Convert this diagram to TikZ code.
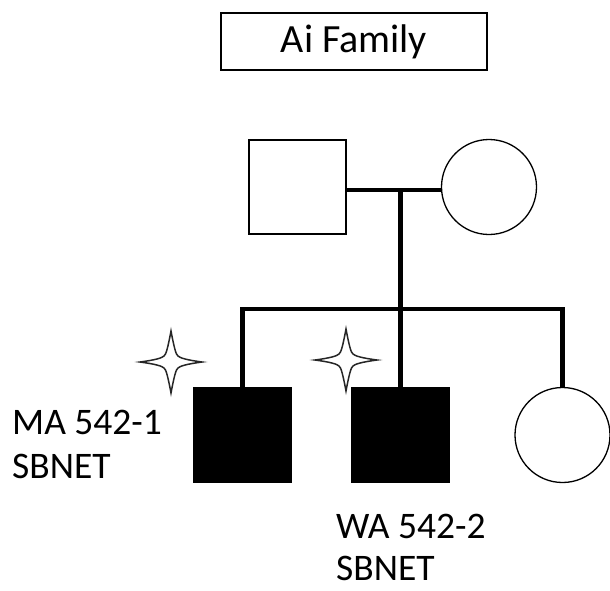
\documentclass[tikz,border=0pt]{standalone}
\usepackage{fontspec}
\setmainfont{Carlito}
\begin{document}
\begin{tikzpicture}[x=1pt,y=-1pt,
  thinline/.style={line width=1.3pt},
  thickline/.style={line width=4.5pt},
  male/.style={draw,thinline,minimum width=97pt,minimum height=94pt,inner sep=0pt},
  female/.style={draw,thinline,circle,minimum size=95pt,inner sep=0pt},
  affected/.style={fill=black},
  lbl/.style={anchor=base west,font=\fontsize{37.5}{44}\selectfont,inner sep=0pt},
  starshape/.style={line width=1.5pt,draw=black!85,fill=white,line join=miter}
]
\useasboundingbox (0,0) rectangle (610,590);
% title
\node[draw,thinline,minimum width=266pt,minimum height=57pt,inner sep=0pt,font=\fontsize{40}{46}\selectfont] (title) at (354,41.5) {Ai Family};
% parents
\node[male] (father) at (297.5,187) {};
\node[female] (mother) at (489,187) {};
% children
\node[male,affected] (c1) at (242.5,435) {};
\node[male,affected] (c2) at (400.5,435) {};
\node[female] (c3) at (562.5,435) {};
% lines
\coordinate (m) at (400.5,190);
\coordinate (s) at (400.5,309);
\draw[thickline] (father.east |- m) -- (mother.west |- m);
\draw[thickline] (m) -- (s);
\draw[thickline,line join=miter] (c1.north) -- (c1.north |- s) -- (c3.north |- s) -- (c3.north);
\draw[thickline] (s) -- (c2.north);
% stars
\foreach \n/\cx/\cy in {st1/171/362, st2/346/360}{
  \draw[starshape] (\cx,\cy-31) .. controls (\cx+3,\cy-15) and (\cx+5,\cy-7) .. (\cx+7,\cy-6)
    .. controls (\cx+9,\cy-4) and (\cx+16,\cy-2) .. (\cx+31,\cy)
    .. controls (\cx+16,\cy+2) and (\cx+9,\cy+4) .. (\cx+7,\cy+6)
    .. controls (\cx+5,\cy+7) and (\cx+3,\cy+15) .. (\cx,\cy+31)
    .. controls (\cx-3,\cy+15) and (\cx-5,\cy+7) .. (\cx-7,\cy+6)
    .. controls (\cx-9,\cy+4) and (\cx-16,\cy+2) .. (\cx-31,\cy)
    .. controls (\cx-16,\cy-2) and (\cx-9,\cy-4) .. (\cx-7,\cy-6)
    .. controls (\cx-5,\cy-7) and (\cx-3,\cy-15) .. (\cx,\cy-31) -- cycle;
}
% labels
\node[lbl] (l1a) at (12,434) {MA 542-1};
\node[lbl] (l1b) at (12,478) {SBNET};
\node[lbl] (l2a) at (336,538) {WA 542-2};
\node[lbl] (l2b) at (336,580) {SBNET};
\end{tikzpicture}
\end{document}
